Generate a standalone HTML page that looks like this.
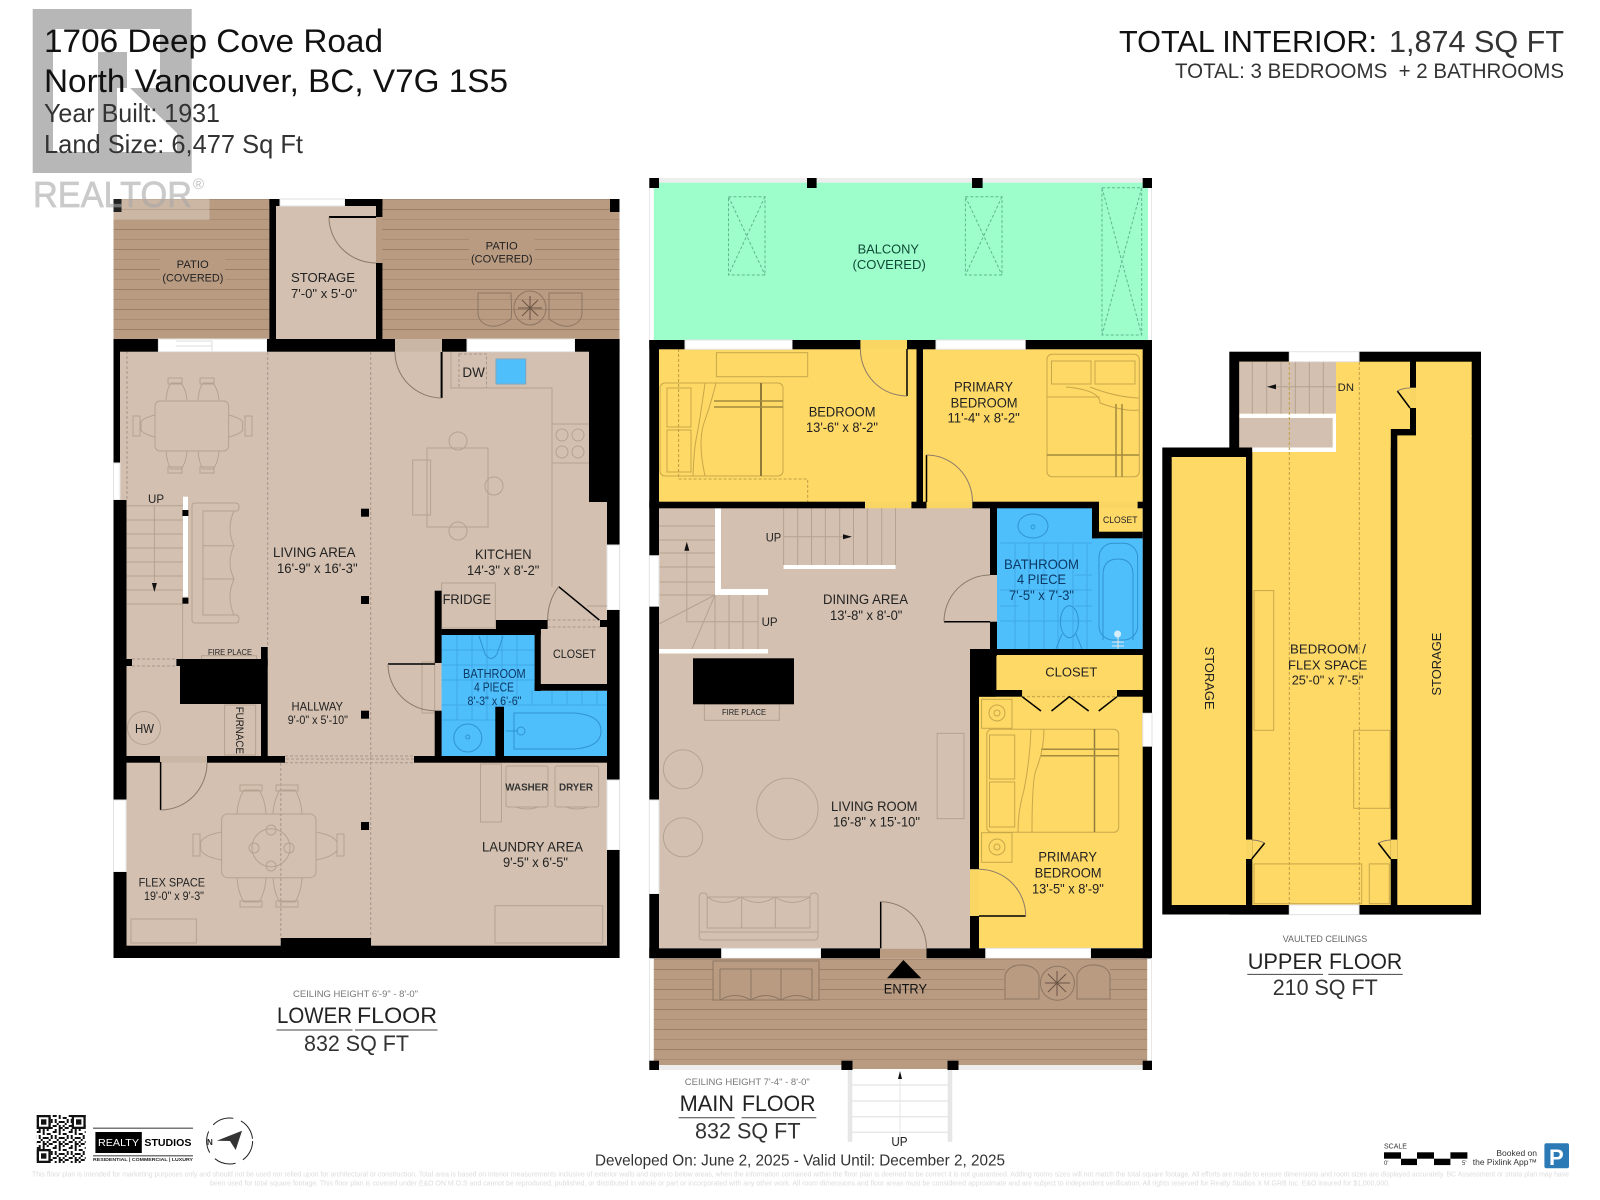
<!DOCTYPE html>
<html><head><meta charset="utf-8"><title>1706 Deep Cove Road floor plan</title>
<style>
html,body{margin:0;padding:0;background:#fff}
svg{display:block}
text{font-family:"Liberation Sans",sans-serif;fill:#222}
.f{fill:none;stroke:#b5a291;stroke-width:1}
.y{fill:none;stroke:#c8a74a;stroke-width:1}
.d{fill:none;stroke:#a8968a;stroke-width:1;stroke-dasharray:3 2}
.dy{fill:none;stroke:#bf9f45;stroke-width:1;stroke-dasharray:3 2}
.dg{fill:none;stroke:#5fb98f;stroke-width:1;stroke-dasharray:3 2}
.w{fill:#fff;stroke:#e2e2e2;stroke-width:1}
.dk{fill:none;stroke:#8d7662;stroke-width:1}
.b{fill:none;stroke:#2f93d0;stroke-width:1}
.door{fill:none;stroke:#8c7a6a;stroke-width:1}
.bk{stroke:#000;stroke-width:2;fill:none}
</style></head><body>
<svg xmlns="http://www.w3.org/2000/svg" width="1600" height="1200" viewBox="0 0 1600 1200">
<defs>
<pattern id="deck" width="20" height="20" patternUnits="userSpaceOnUse" patternTransform="translate(0,9)">
<rect width="20" height="20" fill="#b99b82"/>
<rect y="0" width="20" height="1" fill="#9c7f67"/><rect y="10" width="20" height="1" fill="#a98c73"/>
</pattern>
<pattern id="qr" width="16" height="16" patternUnits="userSpaceOnUse" patternTransform="translate(36.7,1115)">
<rect width="16" height="16" fill="#fff"/>
<path d="M0,0h4v2h-4zM6,0h2v4h-2zM10,2h4v2h-4zM2,4h2v4h-2zM6,6h6v2h-6zM14,4h2v4h-2zM0,10h4v2h-4zM6,10h2v6h-2zM10,10h2v2h-2zM12,12h4v2h-4zM2,14h2v2h-2zM10,14h2v2h-2zM4,8h2v2h-2zM12,8h2v2h-2zM8,12h2v2h-2z" fill="#111"/>
</pattern>
</defs>
<rect width="1600" height="1200" fill="#fff"/>

<!-- logo -->
<rect x="32.7" y="9" width="159" height="164" fill="#b7b7b7"/>
<path d="M53,29H160V88H130L177,133V152H117V88H127V52H98V152H53Z" fill="#fff"/>

<!-- LOWER FLOOR base -->
<rect x="113.5" y="199" width="506" height="140" fill="url(#deck)"/>
<rect x="113.5" y="199" width="96" height="21" fill="#fff" opacity=".28"/>
<rect x="113.5" y="199" width="8" height="13" fill="#222"/>
<rect x="610" y="199" width="9.5" height="13" fill="#000"/>
<rect x="160" y="256" width="65" height="27" fill="#b99b82"/>
<rect x="469" y="237" width="66" height="28" fill="#b99b82"/>
<text x="33" y="207" font-size="36" textLength="159" lengthAdjust="spacingAndGlyphs" style="fill:#a8a8a8;stroke:#a8a8a8;stroke-width:.7" opacity=".6">REALTOR</text>
<text x="193" y="189" font-size="15" style="fill:#c0c0c0">®</text>
<rect x="276" y="205" width="100" height="134" fill="#d3c0b0"/>
<rect x="269.4" y="199" width="6.6" height="140"/>
<rect x="269.4" y="199" width="11" height="7"/>
<rect x="280" y="199" width="65" height="7" class="w"/>
<rect x="345" y="199" width="37.4" height="7"/>
<rect x="376" y="199" width="6.4" height="18"/>
<rect x="376" y="217" width="6.4" height="46" fill="#b99b82"/>
<rect x="376" y="263" width="6.4" height="76"/>
<path d="M329,217H376" class="bk"/><path d="M329,217A47,46 0 0 0 376,263" class="door"/>
<!-- patio furniture -->
<path d="M478,293h33q1,22 0,26q-16,12 -28,4q-5,-4 -5,-10zM549,293h33v20q0,6 -5,10q-12,8 -28,-4z" class="dk"/>
<ellipse cx="530" cy="308" rx="16" ry="17" class="dk"/>
<path d="M530,296V320M518,308H542M522,300L538,316M538,300L522,316" stroke="#6b5545" fill="none"/>

<rect x="120" y="351" width="469" height="160" fill="#d3c0b0"/>
<rect x="126" y="500" width="481" height="446" fill="#d3c0b0"/>
<!-- dashed -->
<path d="M267.7,352V647M370.7,352V945M126,759H610M280.8,763V945M127,351V500" class="d"/>
<!-- lower floor dining -->
<rect x="155" y="401" width="73.6" height="50" rx="5" class="f"/>
<path d="M166,400q1,-12 5,-17h10q5,6 6,17M198,400q1,-12 5,-17h10q5,6 6,17M166,451q1,12 5,18h10q5,-6 6,-18M198,451q1,12 5,18h10q5,-6 6,-18M155,415q-12,3 -14,7v8q2,4 14,7M228.6,415q12,3 14,7v8q-2,4 -14,7" class="f"/>
<path d="M168,378h14v6h-14zM200,378h14v6h-14zM168,467h14v6h-14zM200,467h14v6h-14zM133,416h7v20h-7zM245,416h7v20h-7z" class="f"/>
<!-- sofa -->
<path d="M195,503h41q3,0 3,4t-3,4h-33v104h33q3,0 3,4t-3,4h-41q-3,0 -3,-3V506q0,-3 3,-3zM203,545.7h31M203,579h31M234,511q-8,17 0,34.7q-8,17 0,33.3q-8,18 0,36" class="f"/>
<!-- stair -->
<path d="M127,505.7H183M127,520H183M127,534H183M127,548H183M127,562H183M127,576H183M127,590H183M127,604H183M182.6,604V660M154.4,505V582" class="f"/>
<path d="M154.4,592l-2.5,-9h5z" fill="#111"/>
<!-- kitchen -->
<rect x="459" y="354" width="27.5" height="34" class="d"/>
<rect x="496" y="359" width="29.7" height="25" fill="#4fbffc" stroke="#7aa7c4"/>
<path d="M451,352V388H552V587M552,424H589M552,463H589" class="f"/>
<circle cx="562" cy="435" r="6" class="f"/><circle cx="578" cy="435" r="6" class="f"/><circle cx="562" cy="452" r="6" class="f"/><circle cx="578" cy="452" r="6" class="f"/>
<rect x="427" y="448" width="61" height="79" class="f"/>
<circle cx="458" cy="441" r="9" class="f"/><circle cx="458" cy="531" r="9" class="f"/><circle cx="494" cy="486" r="9" class="f"/>
<rect x="412.7" y="460" width="17.9" height="55" class="f"/>
<rect x="441.6" y="583" width="53.7" height="45" class="f"/>
<path d="M441.6,398V352" stroke="#000" stroke-width="2"/>
<path d="M395,352A47,46 0 0 0 441.6,398" class="door"/>
<!-- lower misc furniture -->
<rect x="422" y="662" width="12.7" height="51" class="f"/>
<rect x="480.5" y="764" width="21" height="58" class="f"/>
<rect x="506" y="766" width="42" height="41" rx="2" class="f"/><rect x="555" y="766" width="43.6" height="41" rx="2" class="f"/>
<path d="M516,807q11,4 22,0M566,807q11,4 22,0" class="f"/>
<rect x="131" y="919" width="65.4" height="24" class="f"/>
<rect x="495" y="905.7" width="107.7" height="37.3" class="f"/>
<!-- flex dining -->
<rect x="221.6" y="814" width="94.4" height="63.7" rx="6" class="f"/>
<circle cx="271" cy="847.7" r="19" class="f"/>
<circle cx="271" cy="830" r="5" class="f"/><circle cx="271" cy="866" r="5" class="f"/><circle cx="254" cy="848" r="5" class="f"/><circle cx="289" cy="848" r="5" class="f"/>
<path d="M237,814q1,-15 7,-24h15q6,9 7,24M273,814q1,-15 7,-24h15q6,9 7,24M237,878q1,15 7,24h15q6,-9 7,-24M273,878q1,15 7,24h15q6,-9 7,-24M221.6,832q-17,3 -21,10v8q4,7 21,10M316,832q17,3 21,10v8q-4,7 -21,10" class="f"/>
<path d="M240,785h22v6h-22zM276,785h22v6h-22zM240,901h22v6h-22zM276,901h22v6h-22zM193,834h7v22h-7zM337,834h7v22h-7z" class="f"/>
<!-- blue bath lower -->
<path d="M441.6,635H534.6V690.7H607V756H441.6Z" fill="#4fbffc"/>
<path d="M441.6,650H535M441.6,665H607M441.6,680H535M441.6,705H607M441.6,720H495M457,635V720M472,635V720M487,635V720M502,635V705M517,635V705M532,690V705M552,690V705M567,690V705M582,690V705M597,690V705" class="b" opacity=".5"/>
<path d="M479,636l6,18q6,9 12,0l6,-18" class="b"/>
<circle cx="467.8" cy="738" r="14" class="b"/><circle cx="467.8" cy="737" r="2" class="b"/>
<path d="M514,713h60q27,2 27,18t-27,18h-60z" class="b"/>
<path d="M506,731h12" class="b"/><circle cx="521" cy="731" r="4" class="b"/>
<!-- closet lower -->
<rect x="540.8" y="627" width="66.2" height="57" fill="#d3c0b0"/>
<rect x="224.6" y="705" width="31" height="50" class="f"/>
<circle cx="144" cy="728" r="16.5" class="f"/>
<rect x="201.6" y="655.7" width="55" height="4.3" class="f"/>
<!-- LOWER walls -->
<rect x="113.5" y="339" width="45" height="12.7"/>
<rect x="158.4" y="339" width="108.6" height="12.7" class="w"/>
<path d="M176,341H212V351M176,346H212" stroke="#ddd" fill="none"/>
<rect x="267" y="339" width="128" height="12.7"/>
<rect x="395" y="339" width="47" height="12.7" fill="#c9b6a4"/>
<rect x="442" y="339" width="25" height="12.7"/>
<rect x="467" y="339" width="108" height="12.7" class="w"/>
<rect x="575" y="339" width="44.6" height="12.7"/>
<rect x="589" y="351" width="30.6" height="151"/>
<rect x="607" y="502" width="12.6" height="43"/>
<rect x="607" y="545" width="12.6" height="65" class="w"/>
<rect x="607" y="610" width="12.6" height="170"/>
<rect x="607" y="780" width="12.6" height="70" class="w"/>
<rect x="607" y="850" width="12.6" height="108"/>
<rect x="113.5" y="351" width="6.5" height="112"/>
<rect x="113.5" y="463" width="6.5" height="37" class="w"/>
<rect x="113.5" y="500" width="13" height="300"/>
<rect x="113.5" y="800" width="12.6" height="72" class="w"/>
<rect x="113.5" y="872" width="13" height="86"/>
<rect x="113.5" y="945.7" width="506" height="12.3"/>
<rect x="280.8" y="938" width="90.2" height="8"/>
<rect x="113.5" y="756" width="46.5" height="6.7"/>
<rect x="207" y="756" width="78" height="6.7"/>
<rect x="414" y="756" width="205" height="6.7"/>
<rect x="160" y="756" width="47" height="6.7" fill="#c9b6a4"/>
<path d="M285,756H414M285,762.7H414" class="d"/>
<path d="M160.6,762V810" stroke="#000" stroke-width="1.5"/>
<path d="M160.6,810A46.4,47 0 0 0 207,763" class="door"/>
<rect x="126.5" y="659" width="5.5" height="7"/>
<path d="M132,659H176M132,666H176" class="d"/>
<rect x="176.4" y="659" width="91.3" height="7"/>
<rect x="180" y="660" width="81" height="44"/>
<rect x="261" y="647" width="6.7" height="110"/>
<rect x="434.7" y="590.7" width="6.9" height="72.3"/>
<rect x="434.7" y="710.7" width="6.9" height="46"/>
<path d="M388,664H435" stroke="#000" stroke-width="1.5"/>
<path d="M388,664A46.7,46.7 0 0 0 434.7,710.7" class="door"/>
<rect x="441.6" y="629" width="99.2" height="6"/>
<rect x="496" y="620" width="51.6" height="9"/>
<rect x="534.6" y="629" width="6.2" height="62"/>
<rect x="534.6" y="684" width="72.4" height="6.7"/>
<rect x="495.3" y="706.7" width="8.7" height="50"/>
<rect x="600" y="620" width="7" height="7"/>
<path d="M547.6,620H600M547.6,627H600" class="d"/>
<path d="M558.7,586.7L599.3,620" stroke="#000" stroke-width="1.5"/>
<path d="M558.7,586.7Q548,600 547.6,620" class="door"/>
<path d="M587,606H607" class="f"/>
<rect x="183" y="496.7" width="5" height="100" fill="#fff"/>
<rect x="182.4" y="510" width="6" height="6"/><rect x="182.4" y="597.7" width="6" height="6"/>
<rect x="361" y="508.7" width="8" height="8"/><rect x="361" y="596" width="8" height="8"/><rect x="361" y="710.7" width="8" height="8"/><rect x="361" y="822" width="8" height="8"/>

<!-- MAIN FLOOR base -->
<rect x="653.8" y="178" width="494.2" height="5" fill="#ededed"/>
<rect x="653.8" y="182.7" width="494.2" height="158" fill="#9dfdcb"/>
<path d="M649.5,183V340M1151.5,183V340" stroke="#e8e8e8"/>
<rect x="649.3" y="178" width="9.7" height="10"/><rect x="807" y="178" width="9.6" height="10"/><rect x="972" y="178" width="10.6" height="10"/><rect x="1142.7" y="178" width="9.3" height="10"/>
<path d="M728.5,196.7H765V275H728.5ZM728.5,196.7L765,275M765,196.7L728.5,275M965.4,196.7H1002V275H965.4ZM965.4,196.7L1002,275M1002,196.7L965.4,275M1102,187.7H1141.7V335H1102ZM1102,187.7L1141.7,335M1141.7,187.7L1102,335" class="dg"/>

<rect x="659" y="349" width="484" height="153" fill="#fed966"/>
<rect x="659" y="508" width="331" height="141" fill="#d3c0b0"/>
<rect x="659" y="649" width="311" height="299" fill="#d3c0b0"/>
<rect x="979" y="655" width="164" height="293" fill="#fed966"/>
<rect x="997" y="508" width="145.7" height="141" fill="#4fbffc"/>
<rect x="1099" y="508" width="43.7" height="24" fill="#fed966"/>
<!-- bedroom furniture -->
<rect x="716.4" y="352.7" width="91.3" height="24" class="y"/>
<rect x="660" y="383" width="123" height="93" rx="5" class="y"/>
<rect x="667" y="388" width="24" height="39" class="y"/><rect x="667" y="430" width="24" height="42" class="y"/>
<path d="M761,383V476" stroke="#8f7a3a" stroke-width="2" fill="none"/>
<path d="M714,401H783M714,407H783" stroke="#a28a3e" stroke-width="1.5" fill="none"/>
<path d="M705,383Q700,420 696,440Q694,450 693,476M716,383Q712,400 705,420Q697,440 705,476" class="y"/>
<path d="M678.6,349V479H807.7V502" class="dy"/>
<rect x="1047" y="354.3" width="92.3" height="122.4" rx="5" class="y"/>
<rect x="1051.5" y="361" width="39.5" height="23" class="y"/><rect x="1095" y="361" width="40" height="23" class="y"/>
<path d="M1047,397H1100M1066,387Q1100,390 1100,403Q1125,412 1139,410M1090,387Q1115,397 1139,398" class="y"/>
<path d="M1116,404V477M1122,404V477" stroke="#a28a3e" stroke-width="1.5" fill="none"/>
<path d="M1047,455H1139" stroke="#a28a3e" stroke-width="1.5"/>
<!-- stairs main -->
<path d="M659,526H715M659,540H715M659,553H715M659,567H715M659,582H715M659,595H715M659,624L715,595M692,649L715,595M715,595V649M729,595V649M743,595V649M758,595V649M686.8,550V621.7H758.8M783.6,508V565M797.7,508V565M811.5,508V565M825.3,508V565M839.7,508V565M853.5,508V565M867.3,508V565M881.7,508V565M895.5,508V565M783.6,536.7H850" class="f"/>
<path d="M686.8,541.7l-2.5,9h5z" fill="#111"/><path d="M852,536.7l-9,-2.5v5z" fill="#111"/>
<rect x="715" y="508" width="6" height="87" fill="#fff"/>
<rect x="715" y="589" width="53" height="6" fill="#fff"/>
<rect x="659" y="649" width="109" height="4.5" fill="#fff"/>
<rect x="783.6" y="565" width="112" height="4" fill="#fff"/>
<!-- fireplace main -->
<rect x="704.4" y="704" width="75" height="16.3" class="f"/>
<rect x="693" y="658.3" width="101" height="46"/>
<!-- living furn -->
<circle cx="683" cy="769.3" r="19.6" class="f"/><circle cx="683" cy="837.3" r="19.6" class="f"/><circle cx="787.4" cy="809" r="30.7" class="f"/>
<rect x="937.2" y="733.3" width="26.8" height="85.4" class="f"/>
<path d="M699.2,936V897q0,-4 4,-4q4,0 4,4V928H810V897q0,-4 4,-4q4,0 4,4V936q0,4 -4,4H703q-4,0 -4,-4ZM707,897q17,11 34,0q17,11 34,0q17,11 35,0M741.6,897V928M775.3,897V928M707,897H810M699.2,932H818" class="f"/>
<!-- bath main -->
<path d="M1000,543H1092M1000,590H1092M1000,621H1092M1015,543V649M1029,543V649M1044,543V649M1058,543V649M1073,543V649M1087,543V649M1000,606H1018M1075,606H1092M1075,575H1092" class="b" opacity=".5"/>
<ellipse cx="1033" cy="526" rx="15" ry="12" class="b"/><circle cx="1033" cy="527" r="2" class="b"/>
<ellipse cx="1069.4" cy="621.7" rx="9" ry="16" class="b"/><path d="M1056,649l6,-15M1082,649l-6,-15" class="b"/>
<rect x="1099" y="543.3" width="38.6" height="96.7" rx="14" class="b"/><path d="M1103,640V575q0,-16 15,-16q15,0 15,16V640" class="b"/>
<circle cx="1117.6" cy="634" r="3.5" fill="#d5eefc"/><path d="M1112,642h12M1112,646h12M1118,637V649" stroke="#e6e6e6"/>
<!-- primary furn lower -->
<rect x="981.6" y="699.3" width="30.4" height="29" class="y"/><circle cx="997" cy="713" r="8" class="y"/><circle cx="997" cy="713" r="3" class="y"/>
<rect x="981.6" y="832.7" width="30.4" height="29.6" class="y"/><circle cx="997" cy="847" r="8" class="y"/><circle cx="997" cy="847" r="3" class="y"/>
<rect x="986.8" y="729.3" width="131.9" height="103" rx="5" class="y"/>
<rect x="989.5" y="735" width="25.2" height="44" class="y"/><rect x="989.5" y="782" width="25.2" height="45" class="y"/>
<path d="M1094.5,729V832" stroke="#8f7a3a" stroke-width="1.5"/>
<path d="M1041,749.3H1119M1041,755.7H1119" stroke="#a28a3e" stroke-width="1.5"/>
<path d="M1031,729Q1030,760 1024,790Q1018,810 1018,832M1044,729Q1044,750 1036,770Q1032,780 1032,832" class="y"/>
<!-- MAIN walls -->
<rect x="649.3" y="340" width="36" height="9.3"/>
<rect x="685" y="340" width="107.5" height="9.3" class="w"/>
<rect x="792.5" y="340" width="68" height="9.3"/>
<rect x="860.4" y="340" width="46.6" height="9.3" fill="#f9d563"/>
<rect x="907" y="340" width="29" height="9.3"/>
<rect x="936" y="340" width="89.7" height="9.3" class="w"/>
<rect x="1025.7" y="340" width="126.3" height="9.3"/>
<rect x="649.3" y="340" width="9.7" height="215.7"/>
<rect x="649.3" y="555.7" width="9.7" height="51" class="w"/>
<rect x="649.3" y="606.7" width="9.7" height="193.3"/>
<rect x="649.3" y="800" width="9.7" height="94" class="w"/>
<rect x="649.3" y="894" width="9.7" height="64"/>
<rect x="1142.7" y="340" width="9.3" height="373.3"/>
<rect x="1142.7" y="713.3" width="9.3" height="33.4" class="w"/>
<rect x="1142.7" y="746.7" width="9.3" height="211.6"/>
<rect x="916.5" y="349" width="6.5" height="159"/>
<rect x="649.3" y="501.7" width="215.7" height="6.6"/>
<rect x="865" y="501.7" width="46.4" height="6.6" fill="#f9d563"/>
<rect x="911.4" y="501.7" width="15.1" height="6.6"/>
<rect x="926.5" y="501.7" width="45.8" height="6.6" fill="#f9d563"/>
<rect x="972.3" y="501.7" width="126.7" height="6.6"/>
<rect x="1099" y="501.7" width="38.6" height="6.6" fill="#f9d563"/>
<rect x="1137.6" y="501.7" width="14.4" height="6.6"/>
<rect x="990" y="508" width="7" height="67"/>
<rect x="990" y="575" width="7" height="46.7" fill="#d3c0b0"/>
<rect x="990" y="621.7" width="7" height="34"/>
<rect x="1092" y="508" width="7" height="30.3"/>
<rect x="1092" y="531.7" width="50.7" height="6.6"/>
<rect x="970" y="649" width="182" height="6"/>
<rect x="970" y="649" width="26.4" height="47.7"/>
<rect x="970" y="655" width="9" height="214.3"/>
<rect x="970" y="869.3" width="9" height="46.7" fill="#f9d563"/>
<rect x="970" y="916" width="9" height="33"/>
<rect x="970" y="690" width="52.2" height="6.7"/>
<rect x="1022.2" y="690" width="94.8" height="6.7" fill="#f9d563"/>
<path d="M1022,696.7H1117" class="dy"/>
<rect x="1117" y="690" width="35" height="6.7"/>
<path d="M1022.2,696.7L1041,711M1051.5,711L1069.4,696.7L1088.7,711M1098.7,711L1117,696.7" stroke="#000" stroke-width="1.5" fill="none"/>
<rect x="649.3" y="948.3" width="72.3" height="10"/>
<rect x="721.6" y="948.3" width="99.4" height="10" class="w"/>
<rect x="821" y="948.3" width="59" height="10"/>
<rect x="880" y="948.3" width="46.5" height="10" fill="#b99b82"/>
<rect x="926.5" y="948.3" width="59.2" height="10"/>
<rect x="985.7" y="948.3" width="105.3" height="10" class="w"/>
<rect x="1091" y="948.3" width="61" height="10"/>
<!-- door main -->
<path d="M907,349V396" stroke="#000" stroke-width="1.5"/><path d="M860.4,349.3A46.6,46.7 0 0 0 907,396" class="door"/>
<path d="M926.5,455V502" stroke="#000" stroke-width="1.5"/><path d="M926.5,455A46,46.7 0 0 1 972.5,501.7" class="door"/>
<path d="M944,621.7H990" stroke="#000" stroke-width="1.5"/><path d="M944,621.7A46,46.7 0 0 1 990,575" class="door"/>
<path d="M979,916H1025.7" stroke="#000" stroke-width="1.5"/><path d="M979,869.3A46.7,46.7 0 0 1 1025.7,916" class="door"/>
<path d="M880.7,901.7V948.3" stroke="#000" stroke-width="1.5"/><path d="M880.7,901.7A46,46.6 0 0 1 926.5,948.3" class="door"/>
<!-- deck -->
<rect x="653.8" y="958.3" width="493.4" height="107" fill="url(#deck)"/>
<path d="M649.5,958V1065M1151.5,958V1065" stroke="#e8e8e8"/>
<rect x="659" y="1065" width="182.4" height="5" fill="#ededed"/>
<rect x="958.5" y="1065" width="184.2" height="5" fill="#ededed"/>
<rect x="852.5" y="1065" width="95" height="4" fill="#b99b82"/>
<rect x="649.3" y="1060.7" width="9.7" height="9.3"/><rect x="841.4" y="1060.7" width="11.1" height="9.3"/><rect x="947.5" y="1060.7" width="11" height="9.3"/><rect x="1142.7" y="1060.7" width="9.3" height="9.3"/>
<rect x="713" y="961" width="106" height="39" fill="#b99b82"/>
<path d="M713,961H819V1000H713ZM720,969V1000M812,969V1000M720,969H812M751,969V1000M781,969V1000M720,1000q15,-9 31,0q15,-9 30,0q15,-9 31,0" class="dk"/>
<rect x="1005" y="965" width="105" height="35" fill="#b99b82"/>
<path d="M1005,999V975q4,-10 16,-10q14,0 18,10V999ZM1077,999V975q4,-10 16,-10q14,0 17,10V999Z" class="dk"/>
<circle cx="1057.4" cy="983.3" r="17" class="dk"/>
<path d="M1045,983H1070M1057,971V996M1048,974L1066,992M1066,974L1048,992" stroke="#6b5545" fill="none"/>
<path d="M887,978.3L903.4,960L921.3,978.3Z" fill="#000"/>
<!-- ext stairs -->
<path d="M850,1070V1141.7M950,1070V1141.7" stroke="#e6e6e6" stroke-width="4.5" fill="none"/>
<path d="M852,1085H948M852,1101H948M852,1116.7H948M852,1132.3H948" stroke="#e8e8e8" stroke-width="1.5"/>
<path d="M900,1072V1141" stroke="#e4e4e4"/>
<path d="M900,1071l-2,8h4z" fill="#111"/>

<!-- UPPER FLOOR -->
<rect x="1229.3" y="351.7" width="251.7" height="562.9"/>
<rect x="1162.3" y="447.5" width="90" height="467"/>
<rect x="1171.7" y="457" width="74.3" height="448" fill="#fed966"/>
<rect x="1252.3" y="429" width="138.4" height="476" fill="#fed966"/>
<rect x="1239.3" y="361.7" width="170.7" height="67.3" fill="#fed966"/>
<rect x="1239.3" y="429" width="151.4" height="18.5" fill="#fed966"/>
<rect x="1397.3" y="435.4" width="74.4" height="469.6" fill="#fed966"/>
<rect x="1416" y="361.7" width="55.7" height="75" fill="#fed966"/>
<rect x="1239.3" y="361.7" width="96.7" height="52" fill="#d3c0b0"/>
<rect x="1239.3" y="418" width="93.4" height="29.5" fill="#d3c0b0"/>
<rect x="1239.3" y="413.7" width="96.7" height="4.3" fill="#fff"/>
<rect x="1332.7" y="413.7" width="3.3" height="38.3" fill="#fff"/>
<rect x="1252.3" y="447.5" width="83.7" height="4.5" fill="#fff"/>
<path d="M1252.3,361.7V413.7M1266.7,361.7V413.7M1281,361.7V413.7M1295.3,361.7V413.7M1309.3,361.7V413.7M1323.3,361.7V413.7M1266.7,386.8H1336" class="f"/>
<path d="M1267,386.8l9,-2.5v5z" fill="#111"/>
<path d="M1289.3,362V905M1359.3,362V905" class="dy"/>
<rect x="1254" y="590.6" width="19.7" height="139.7" class="y"/>
<rect x="1353.7" y="730.3" width="36.3" height="78" class="y"/>
<rect x="1254" y="863.9" width="107.7" height="39.8" class="y"/>
<rect x="1369.3" y="863.9" width="20" height="39.8" class="y"/>
<rect x="1289.3" y="351.7" width="69.7" height="10" class="w"/>
<rect x="1289.3" y="905" width="69.7" height="9.6" class="w"/>
<rect x="1246" y="839.6" width="6.3" height="19.4" fill="#f9d563"/>
<rect x="1390.7" y="839.6" width="6.6" height="19.4" fill="#f9d563"/>
<rect x="1410" y="387.7" width="6" height="20.3" fill="#f9d563"/>
<path d="M1397.3,391L1410,408M1251.7,859L1264.7,843M1390.7,859L1378.3,843" stroke="#000" stroke-width="1.5"/>
<path d="M1397.3,391Q1403,388 1410,388M1252,840Q1258,840 1264.7,843M1391,840Q1385,840 1378.3,843" class="door"/>

<!-- TEXT -->
<text x="44" y="52" font-size="32" textLength="339" lengthAdjust="spacingAndGlyphs" style="fill:#111">1706 Deep Cove Road</text>
<text x="44" y="92" font-size="32" textLength="464" lengthAdjust="spacingAndGlyphs" style="fill:#111">North Vancouver, BC, V7G 1S5</text>
<text x="44" y="122" font-size="26" textLength="176" lengthAdjust="spacingAndGlyphs" style="fill:#333">Year Built: 1931</text>
<text x="44" y="153" font-size="26" textLength="259" lengthAdjust="spacingAndGlyphs" style="fill:#333">Land Size: 6,477 Sq Ft</text>
<text x="1119" y="52" font-size="31" textLength="258" lengthAdjust="spacingAndGlyphs" style="fill:#111">TOTAL INTERIOR:</text>
<text x="1389" y="52" font-size="31" textLength="175" lengthAdjust="spacingAndGlyphs" style="fill:#333">1,874 SQ FT</text>
<text x="1175" y="78" font-size="21" textLength="389" lengthAdjust="spacingAndGlyphs" style="fill:#333" xml:space="preserve">TOTAL: 3 BEDROOMS  + 2 BATHROOMS</text>

<text x="176.7" y="268" textLength="32" lengthAdjust="spacingAndGlyphs" font-size="11">PATIO</text>
<text x="162.4" y="281.7" textLength="61" lengthAdjust="spacingAndGlyphs" font-size="11">(COVERED)</text>
<text x="485.7" y="249.3" textLength="32" lengthAdjust="spacingAndGlyphs" font-size="11">PATIO</text>
<text x="471" y="262.7" textLength="61.6" lengthAdjust="spacingAndGlyphs" font-size="11">(COVERED)</text>
<text x="291" y="282" font-size="13" textLength="64" lengthAdjust="spacingAndGlyphs">STORAGE</text>
<text x="291" y="298" font-size="13" textLength="66" lengthAdjust="spacingAndGlyphs">7'-0" x 5'-0"</text>
<text x="462.4" y="377" font-size="14" textLength="22.5" lengthAdjust="spacingAndGlyphs">DW</text>
<text x="148" y="503" font-size="12" textLength="16" lengthAdjust="spacingAndGlyphs">UP</text>
<text x="273" y="557" font-size="14" textLength="82.5" lengthAdjust="spacingAndGlyphs">LIVING AREA</text>
<text x="277" y="573" font-size="14" textLength="80.6" lengthAdjust="spacingAndGlyphs">16'-9" x 16'-3"</text>
<text x="475" y="559" font-size="14" textLength="56.5" lengthAdjust="spacingAndGlyphs">KITCHEN</text>
<text x="467" y="575" font-size="14" textLength="72.4" lengthAdjust="spacingAndGlyphs">14'-3" x 8'-2"</text>
<text x="442.6" y="604" font-size="14" textLength="48.4" lengthAdjust="spacingAndGlyphs">FRIDGE</text>
<text x="208" y="655" font-size="8.5" textLength="44" lengthAdjust="spacingAndGlyphs">FIRE PLACE</text>
<text x="553" y="658" font-size="12" textLength="43" lengthAdjust="spacingAndGlyphs">CLOSET</text>
<text x="463" y="678" font-size="12.5" textLength="62.7" lengthAdjust="spacingAndGlyphs" style="fill:#0c3a66">BATHROOM</text>
<text x="474" y="691.7" font-size="12.5" textLength="40" lengthAdjust="spacingAndGlyphs" style="fill:#0c3a66">4 PIECE</text>
<text x="467.5" y="705" font-size="11.5" textLength="54" lengthAdjust="spacingAndGlyphs" style="fill:#0c3a66">8'-3" x 6'-6"</text>
<text x="291.5" y="710.7" font-size="12" textLength="51.5" lengthAdjust="spacingAndGlyphs">HALLWAY</text>
<text x="287.7" y="724" font-size="11.5" textLength="60.3" lengthAdjust="spacingAndGlyphs">9'-0" x 5'-10"</text>
<text x="135" y="733" font-size="13" textLength="19" lengthAdjust="spacingAndGlyphs">HW</text>
<text transform="translate(236,706.7) rotate(90)" font-size="11" textLength="47.3" lengthAdjust="spacingAndGlyphs">FURNACE</text>
<text x="505.3" y="790.7" font-size="10.5" font-weight="bold" textLength="43" lengthAdjust="spacingAndGlyphs" style="fill:#333">WASHER</text>
<text x="559" y="790.7" font-size="10.5" font-weight="bold" textLength="34" lengthAdjust="spacingAndGlyphs" style="fill:#333">DRYER</text>
<text x="482" y="851.7" font-size="14" textLength="101" lengthAdjust="spacingAndGlyphs">LAUNDRY AREA</text>
<text x="503" y="867" font-size="14" textLength="65" lengthAdjust="spacingAndGlyphs">9'-5" x 6'-5"</text>
<text x="138.6" y="886.7" font-size="12" textLength="66.4" lengthAdjust="spacingAndGlyphs">FLEX SPACE</text>
<text x="144" y="900" font-size="11.5" textLength="60" lengthAdjust="spacingAndGlyphs">19'-0" x 9'-3"</text>
<text x="293" y="997" font-size="9.5" textLength="125" lengthAdjust="spacingAndGlyphs" style="fill:#777">CEILING HEIGHT 6'-9" - 8'-0"</text>
<text x="277" y="1023" font-size="22" textLength="75" lengthAdjust="spacingAndGlyphs" style="fill:#222">LOWER</text>
<text x="357" y="1023" font-size="22" textLength="80" lengthAdjust="spacingAndGlyphs" style="fill:#222">FLOOR</text>
<path d="M276.5,1030H352.5M355,1030H437.5" stroke="#444"/>
<text x="304" y="1051" font-size="22" textLength="105" lengthAdjust="spacingAndGlyphs" style="fill:#333">832 SQ FT</text>

<text x="857.6" y="253.3" font-size="13" textLength="61.4" lengthAdjust="spacingAndGlyphs" style="fill:#0f4a38">BALCONY</text>
<text x="852.5" y="269" font-size="13" textLength="73.3" lengthAdjust="spacingAndGlyphs" style="fill:#0f4a38">(COVERED)</text>
<text x="808.7" y="416.7" font-size="14" textLength="66.8" lengthAdjust="spacingAndGlyphs">BEDROOM</text>
<text x="806" y="432" font-size="14" textLength="72" lengthAdjust="spacingAndGlyphs">13'-6" x 8'-2"</text>
<text x="954" y="391.7" font-size="14" textLength="59" lengthAdjust="spacingAndGlyphs">PRIMARY</text>
<text x="950.6" y="407.3" font-size="14" textLength="67" lengthAdjust="spacingAndGlyphs">BEDROOM</text>
<text x="947.5" y="422.7" font-size="14" textLength="72.3" lengthAdjust="spacingAndGlyphs">11'-4" x 8'-2"</text>
<text x="1004" y="569" font-size="14" textLength="75" lengthAdjust="spacingAndGlyphs" style="fill:#0c3a66">BATHROOM</text>
<text x="1017" y="584" font-size="14" textLength="49" lengthAdjust="spacingAndGlyphs" style="fill:#0c3a66">4 PIECE</text>
<text x="1009" y="600" font-size="13.5" textLength="65" lengthAdjust="spacingAndGlyphs" style="fill:#0c3a66">7'-5" x 7'-3"</text>
<text x="1103" y="523" font-size="9.5" textLength="34.5" lengthAdjust="spacingAndGlyphs">CLOSET</text>
<text x="765.7" y="541.7" font-size="12" textLength="15.5" lengthAdjust="spacingAndGlyphs">UP</text>
<text x="761.6" y="626" font-size="12" textLength="16" lengthAdjust="spacingAndGlyphs">UP</text>
<text x="823" y="604" font-size="13.5" textLength="85" lengthAdjust="spacingAndGlyphs">DINING AREA</text>
<text x="830" y="620" font-size="13.5" textLength="72.4" lengthAdjust="spacingAndGlyphs">13'-8" x 8'-0"</text>
<text x="722" y="715" font-size="8.5" textLength="44" lengthAdjust="spacingAndGlyphs">FIRE PLACE</text>
<text x="1045.3" y="676.7" font-size="13" textLength="52" lengthAdjust="spacingAndGlyphs">CLOSET</text>
<text x="831" y="811" font-size="14" textLength="86.5" lengthAdjust="spacingAndGlyphs">LIVING ROOM</text>
<text x="833" y="826.7" font-size="14" textLength="87" lengthAdjust="spacingAndGlyphs">16'-8" x 15'-10"</text>
<text x="1038.4" y="861.7" font-size="14" textLength="58.6" lengthAdjust="spacingAndGlyphs">PRIMARY</text>
<text x="1034.6" y="877.7" font-size="14" textLength="67" lengthAdjust="spacingAndGlyphs">BEDROOM</text>
<text x="1032" y="893.3" font-size="14" textLength="71.8" lengthAdjust="spacingAndGlyphs">13'-5" x 8'-9"</text>
<text x="883.8" y="993.3" font-size="14" textLength="43.2" lengthAdjust="spacingAndGlyphs" style="fill:#111">ENTRY</text>
<text x="891.4" y="1146" font-size="13" textLength="16.2" lengthAdjust="spacingAndGlyphs">UP</text>
<text x="684.8" y="1085" font-size="9.5" textLength="125" lengthAdjust="spacingAndGlyphs" style="fill:#777">CEILING HEIGHT 7'-4" - 8'-0"</text>
<text x="679.6" y="1111" font-size="22" textLength="54.4" lengthAdjust="spacingAndGlyphs">MAIN</text>
<text x="742" y="1111" font-size="22" textLength="73.6" lengthAdjust="spacingAndGlyphs">FLOOR</text>
<path d="M678.6,1117.7H734.7M741.6,1117.7H816.3" stroke="#444"/>
<text x="695" y="1138.3" font-size="22" textLength="105.5" lengthAdjust="spacingAndGlyphs" style="fill:#333">832 SQ FT</text>

<text x="1337.7" y="391" font-size="11" textLength="16.3" lengthAdjust="spacingAndGlyphs">DN</text>
<text x="1290" y="653.5" font-size="13" textLength="76" lengthAdjust="spacingAndGlyphs">BEDROOM /</text>
<text x="1288" y="669.6" font-size="13" textLength="79.3" lengthAdjust="spacingAndGlyphs">FLEX SPACE</text>
<text x="1291.7" y="684.7" font-size="13" textLength="71.6" lengthAdjust="spacingAndGlyphs">25'-0" x 7'-5"</text>
<text transform="translate(1205,646.6) rotate(90)" font-size="12.5" textLength="63" lengthAdjust="spacingAndGlyphs">STORAGE</text>
<text transform="translate(1441,695.6) rotate(-90)" font-size="12.5" textLength="63" lengthAdjust="spacingAndGlyphs">STORAGE</text>
<text x="1282.7" y="942" font-size="9" textLength="84.6" lengthAdjust="spacingAndGlyphs" style="fill:#666">VAULTED CEILINGS</text>
<text x="1247.7" y="968.8" font-size="22" textLength="75" lengthAdjust="spacingAndGlyphs">UPPER</text>
<text x="1329" y="968.8" font-size="22" textLength="73.3" lengthAdjust="spacingAndGlyphs">FLOOR</text>
<path d="M1247.3,974.4H1323M1328.3,974.4H1402.7" stroke="#444"/>
<text x="1272.7" y="994.8" font-size="22" textLength="105" lengthAdjust="spacingAndGlyphs" style="fill:#333">210 SQ FT</text>

<text x="595" y="1165.7" font-size="16" textLength="410" lengthAdjust="spacingAndGlyphs" style="fill:#333">Developed On: June 2, 2025 - Valid Until: December 2, 2025</text>
<text x="32" y="1176.7" font-size="7.3" textLength="1537" lengthAdjust="spacingAndGlyphs" style="fill:#dcdcdc">This floor plan is intended for marketing purposes only and should not be used nor relied upon for architectural or construction. Total area is based on interior measurements inclusive of exterior walls and open to below areas, when the information contained within the floor plan is deemed to be correct it is not guaranteed. Adding rooms sizes will not match the total square footage. All efforts are made to ensure dimensions and room sizes are displayed accurately. BC Assessment or strata plan may have</text>
<text x="210" y="1185.7" font-size="7.3" textLength="1180" lengthAdjust="spacingAndGlyphs" style="fill:#dcdcdc">been used for total square footage. This floor plan is covered under E&amp;O ON M.O.S and cannot be reproduced, published, or distributed in whole or part or incorporated with any other work. All room dimensions and floor areas must be considered approximate and are subject to independent verification. All rights reserved for Realty Studios X M.GRB Inc. E&amp;O insured for $1,000,000.</text>

<!-- QR -->
<g fill="#111">
<rect x="36.7" y="1115" width="49" height="48" fill="url(#qr)"/>
<rect x="36.7" y="1115" width="14" height="14"/><rect x="39" y="1117.3" width="9.4" height="9.4" fill="#fff"/><rect x="41" y="1119.3" width="5.4" height="5.4"/>
<rect x="71.7" y="1115" width="14" height="14"/><rect x="74" y="1117.3" width="9.4" height="9.4" fill="#fff"/><rect x="76" y="1119.3" width="5.4" height="5.4"/>
<rect x="36.7" y="1149" width="14" height="14"/><rect x="39" y="1151.3" width="9.4" height="9.4" fill="#fff"/><rect x="41" y="1153.3" width="5.4" height="5.4"/>
</g>
<!-- Realty studios -->
<rect x="93" y="1127.5" width="100" height="1.5" fill="#777"/>
<rect x="95.4" y="1132" width="46.4" height="21" fill="#000"/>
<text x="98" y="1146" font-size="10" textLength="41" lengthAdjust="spacingAndGlyphs" style="fill:#fff">REALTY</text>
<text x="144.4" y="1146" font-size="10" font-weight="bold" textLength="47" lengthAdjust="spacingAndGlyphs" style="fill:#000">STUDIOS</text>
<rect x="93" y="1155" width="100" height="1.5" fill="#777"/>
<text x="93" y="1161" font-size="4.5" font-weight="bold" textLength="100" lengthAdjust="spacingAndGlyphs">RESIDENTIAL | COMMERCIAL | LUXURY</text>
<!-- compass -->
<circle cx="229.6" cy="1141" r="23" fill="none" stroke="#222" stroke-dasharray="22 8" stroke-width="1"/>
<path d="M216.8,1140.7L242,1130.7L235.7,1150L230,1141Z" fill="#333"/>
<text x="207" y="1145" font-size="8" font-weight="bold">N</text>
<!-- scale -->
<text x="1384" y="1148.3" font-size="7.5" textLength="23" lengthAdjust="spacingAndGlyphs" style="fill:#333">SCALE</text>
<g fill="#000">
<rect x="1384" y="1152.3" width="17" height="6.4"/><rect x="1417" y="1152.3" width="17" height="6.4"/><rect x="1450.4" y="1152.3" width="17" height="6.4"/>
<rect x="1401" y="1158.7" width="16" height="6.4"/><rect x="1434" y="1158.7" width="16.4" height="6.4"/>
</g>
<text x="1384" y="1165" font-size="6" style="fill:#333">0'</text>
<text x="1462" y="1165" font-size="6" style="fill:#333">5'</text>
<text x="1537" y="1156" font-size="8.5" text-anchor="end" style="fill:#333">Booked on</text>
<text x="1537" y="1165" font-size="8.5" text-anchor="end" style="fill:#333">the Pixlink App™</text>
<rect x="1544.4" y="1143.3" width="24.6" height="25" rx="2" fill="#2b7ab5"/>
<text x="1549" y="1165" font-size="22" font-weight="bold" style="fill:#fff">P</text>
</svg>
</body></html>
